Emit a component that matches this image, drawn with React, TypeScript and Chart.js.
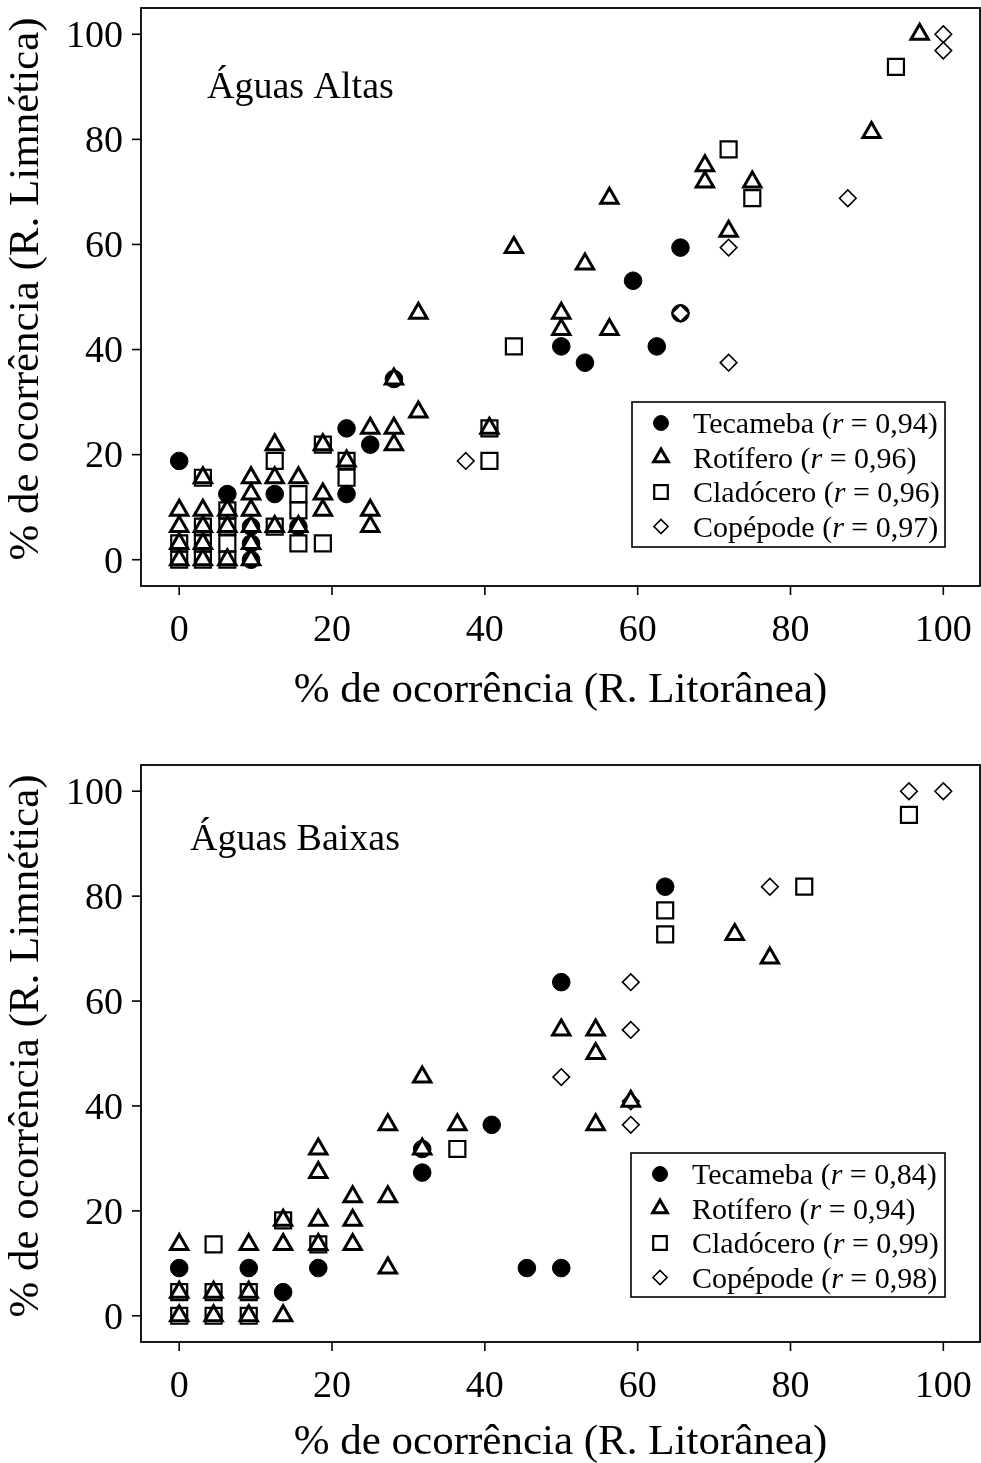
import { useEffect, useRef } from "react";
import { Chart, registerables } from "chart.js";

Chart.register(...registerables);

type Pt = [number, number];

const FONT = '"Liberation Serif", "Times New Roman", serif';

const tickValues = [0, 20, 40, 60, 80, 100];
const groupNames = ["Tecameba", "Rotífero", "Cladócero", "Copépode"];

// Águas Altas: % of occurrence, littoral (x) vs. limnetic (y)
const altasTecameba: Pt[] = [
  [0, 18.8], [6.3, 12.5], [9.4, 6.3], [9.4, 3.1], [9.4, 0], [12.5, 12.5], [15.6, 6.3],
  [21.9, 25], [21.9, 12.5], [25, 21.9], [28.1, 34.4], [50, 40.6], [53.1, 37.5],
  [59.4, 53.1], [62.5, 40.6], [65.6, 59.4], [65.6, 46.9],
];
const altasRotifero: Pt[] = [
  [0, 9.4], [0, 6.3], [0, 3.1], [0, 0],
  [3.1, 15.6], [3.1, 9.4], [3.1, 6.3], [3.1, 3.1], [3.1, 0],
  [6.3, 9.4], [6.3, 6.3], [6.3, 0],
  [9.4, 15.6], [9.4, 12.5], [9.4, 9.4], [9.4, 6.3], [9.4, 3.1], [9.4, 0],
  [12.5, 21.9], [12.5, 15.6], [12.5, 6.3],
  [15.6, 15.6], [15.6, 6.3],
  [18.8, 21.9], [18.8, 12.5], [18.8, 9.4],
  [21.9, 18.8],
  [25, 25], [25, 9.4], [25, 6.3],
  [28.1, 34.4], [28.1, 25], [28.1, 21.9],
  [31.3, 46.9], [31.3, 28.1],
  [40.6, 25],
  [43.8, 59.4],
  [50, 46.9], [50, 43.8],
  [53.1, 56.3],
  [56.3, 68.8], [56.3, 43.8],
  [68.8, 75], [68.8, 71.9],
  [71.9, 62.5],
  [75, 71.9],
  [90.6, 81.3],
  [96.9, 100],
];
const altasCladocero: Pt[] = [
  [0, 3.1], [0, 0],
  [3.1, 15.6], [3.1, 6.3], [3.1, 3.1], [3.1, 0],
  [6.3, 9.4], [6.3, 6.3], [6.3, 3.1], [6.3, 0],
  [12.5, 18.8], [12.5, 6.3],
  [15.6, 12.5], [15.6, 9.4], [15.6, 3.1],
  [18.8, 21.9], [18.8, 3.1],
  [21.9, 18.8], [21.9, 15.6],
  [40.6, 25], [40.6, 18.8],
  [43.8, 40.6],
  [71.9, 78.1],
  [75, 68.8],
  [93.8, 93.8],
];
const altasCopepode: Pt[] = [
  [37.5, 18.8], [65.6, 46.9], [71.9, 59.4], [71.9, 37.5], [87.5, 68.8], [100, 100], [100, 96.9],
];
const altasR = ["0,94", "0,96", "0,96", "0,97"];

// Águas Baixas
const baixasTecameba: Pt[] = [
  [0, 9.1], [9.1, 9.1], [13.6, 4.5], [18.2, 9.1], [31.8, 31.8], [31.8, 27.3],
  [40.9, 36.4], [45.5, 9.1], [50, 9.1], [50, 63.6], [63.6, 81.8],
];
const baixasRotifero: Pt[] = [
  [0, 13.6], [0, 4.5], [0, 0],
  [4.5, 4.5], [4.5, 0],
  [9.1, 13.6], [9.1, 4.5], [9.1, 0],
  [13.6, 18.2], [13.6, 13.6], [13.6, 0],
  [18.2, 31.8], [18.2, 27.3], [18.2, 18.2], [18.2, 13.6],
  [22.7, 22.7], [22.7, 18.2], [22.7, 13.6],
  [27.3, 36.4], [27.3, 22.7], [27.3, 9.1],
  [31.8, 45.5], [31.8, 31.8],
  [36.4, 36.4],
  [50, 54.5],
  [54.5, 54.5], [54.5, 50], [54.5, 36.4],
  [59.1, 40.9],
  [72.7, 72.7],
  [77.3, 68.2],
];
const baixasCladocero: Pt[] = [
  [0, 4.5], [0, 0], [4.5, 13.6], [4.5, 4.5], [4.5, 0], [9.1, 4.5], [9.1, 0],
  [13.6, 18.2], [18.2, 13.6], [36.4, 31.8], [63.6, 77.3], [63.6, 72.7], [81.8, 81.8], [95.5, 95.5],
];
const baixasCopepode: Pt[] = [
  [50, 45.5], [59.1, 63.6], [59.1, 54.5], [59.1, 40.9], [59.1, 36.4], [77.3, 81.8], [95.5, 100], [100, 100],
];
const baixasR = ["0,84", "0,94", "0,99", "0,98"];

type MarkerStyle = { pointStyle: string; radius: number; bg: string; borderWidth: number };
// one style per group, in groupNames order
const markerStyles: MarkerStyle[] = [
  { pointStyle: "circle", radius: 8.8, bg: "#000", borderWidth: 1 },
  { pointStyle: "triangle", radius: 10, bg: "#fff", borderWidth: 3 },
  { pointStyle: "rect", radius: 11.3, bg: "rgba(0,0,0,0)", borderWidth: 2.2 },
  { pointStyle: "rectRot", radius: 8.3, bg: "#fff", borderWidth: 1.6 },
];
// drawing order, bottom to top: circles, diamonds, squares, triangles
const drawStack = [1, 2, 3, 0];

const TICK_FS = 38;
const TITLE_FS = 43;
const LEGEND_FS = 30;

function setFont(ctx: CanvasRenderingContext2D, size: number, italic = false) {
  ctx.font = `${italic ? "italic " : ""}${size}px ${FONT}`;
}

function drawText(
  ctx: CanvasRenderingContext2D, text: string, x: number, y: number, size: number,
  align: CanvasTextAlign, rotate = false, italic = false,
) {
  ctx.save();
  ctx.translate(x, y);
  if (rotate) ctx.rotate(-Math.PI / 2);
  setFont(ctx, size, italic);
  ctx.textAlign = align;
  ctx.textBaseline = "alphabetic";
  ctx.fillStyle = "#000";
  ctx.fillText(text, 0, 0);
  ctx.restore();
}

function textWidth(ctx: CanvasRenderingContext2D, text: string, size: number, italic = false) {
  ctx.save();
  setFont(ctx, size, italic);
  const w = ctx.measureText(text).width;
  ctx.restore();
  return w;
}

function drawMarker(ctx: CanvasRenderingContext2D, st: MarkerStyle, x: number, y: number, scale: number) {
  const r = st.radius * scale;
  ctx.save();
  ctx.lineWidth = st.borderWidth;
  ctx.strokeStyle = "#000";
  ctx.fillStyle = st.bg;
  ctx.beginPath();
  if (st.pointStyle === "circle") {
    ctx.arc(x, y, r, 0, Math.PI * 2);
  } else if (st.pointStyle === "triangle") {
    ctx.moveTo(x, y - r);
    ctx.lineTo(x + r * Math.sin((2 * Math.PI) / 3), y - r * Math.cos((2 * Math.PI) / 3));
    ctx.lineTo(x + r * Math.sin((4 * Math.PI) / 3), y - r * Math.cos((4 * Math.PI) / 3));
  } else if (st.pointStyle === "rect") {
    const s = r * Math.SQRT1_2;
    ctx.rect(x - s, y - s, 2 * s, 2 * s);
  } else {
    ctx.moveTo(x - r, y);
    ctx.lineTo(x, y - r);
    ctx.lineTo(x + r, y);
    ctx.lineTo(x, y + r);
  }
  ctx.closePath();
  ctx.fill();
  ctx.stroke();
  ctx.restore();
}

type PanelProps = {
  title: string;
  series: Pt[][];
  rValues: string[];
  height: number;
  padTop: number;
  padBottom: number;
  titleX: number;
  titleBaseline: number;
  xTitleOffset: number;
  legendBox: { x: number; y: number; w: number; h: number };
};

function Panel({
  title, series, rValues, height, padTop, padBottom, titleX, titleBaseline, xTitleOffset, legendBox,
}: PanelProps) {
  const ref = useRef<HTMLCanvasElement | null>(null);

  useEffect(() => {
    const canvas = ref.current;
    if (!canvas) return;

    const decorations = {
      id: "panelDecorations",
      afterDraw(chart: Chart) {
        const ctx = chart.ctx;
        const { left, right, top, bottom } = chart.chartArea;
        const xs = chart.scales.x;
        const ys = chart.scales.y;
        ctx.save();
        ctx.strokeStyle = "#000";
        ctx.lineWidth = 1.8;
        ctx.strokeRect(left, top, right - left, bottom - top);

        ctx.lineWidth = 1.6;
        for (const v of tickValues) {
          const px = xs.getPixelForValue(v);
          ctx.beginPath();
          ctx.moveTo(px, bottom);
          ctx.lineTo(px, bottom + 9);
          ctx.stroke();
          drawText(ctx, String(v), px, bottom + 55, TICK_FS, "center");

          const py = ys.getPixelForValue(v);
          ctx.beginPath();
          ctx.moveTo(left - 9, py);
          ctx.lineTo(left, py);
          ctx.stroke();
          drawText(ctx, String(v), left - 18, py + 12.8, TICK_FS, "right");
        }

        drawText(ctx, "% de ocorrência (R. Litorânea)", (left + right) / 2, bottom + xTitleOffset, TITLE_FS, "center");
        drawText(ctx, "% de ocorrência (R. Limnética)", 38, top + 281, TITLE_FS, "center", true);

        drawText(ctx, title, titleX, titleBaseline, TICK_FS, "left");

        // legend
        const b = legendBox;
        ctx.fillStyle = "#fff";
        ctx.fillRect(b.x, b.y, b.w, b.h);
        ctx.lineWidth = 1.6;
        ctx.strokeRect(b.x, b.y, b.w, b.h);
        groupNames.forEach((name, i) => {
          const cy = b.y + 21 + i * 34.5;
          drawMarker(ctx, markerStyles[i], b.x + 29, cy, 0.85);
          let tx = b.x + 61;
          const base = cy + 10;
          const p1 = `${name} (`;
          drawText(ctx, p1, tx, base, LEGEND_FS, "left");
          tx += textWidth(ctx, p1, LEGEND_FS);
          drawText(ctx, "r", tx, base, LEGEND_FS, "left", false, true);
          tx += textWidth(ctx, "r", LEGEND_FS, true);
          drawText(ctx, ` = ${rValues[i]})`, tx, base, LEGEND_FS, "left");
        });
        ctx.restore();
      },
    };

    const datasets = drawStack.map((g) => {
      const st = markerStyles[g];
      return {
        label: groupNames[g],
        data: series[g].map(([x, y]) => ({ x, y })),
        pointStyle: st.pointStyle as any,
        pointRadius: st.radius,
        pointBackgroundColor: st.bg,
        pointBorderColor: "#000",
        pointBorderWidth: st.borderWidth,
        showLine: false,
        clip: false as any,
      };
    });

    const chart = new Chart(canvas, {
      type: "scatter",
      data: { datasets },
      options: {
        animation: false,
        responsive: false,
        devicePixelRatio: 1,
        events: [],
        layout: { autoPadding: false, padding: { left: 141, right: 1, top: padTop, bottom: padBottom } },
        plugins: { legend: { display: false }, tooltip: { enabled: false } },
        scales: {
          x: { type: "linear", min: -5, max: 104.8, display: false },
          y: { type: "linear", min: -5, max: 105, display: false },
        },
      },
      plugins: [decorations],
    });
    return () => chart.destroy();
  }, [title, series, rValues, padTop, padBottom, titleX, titleBaseline, xTitleOffset, legendBox]);

  return <canvas ref={ref} width={981} height={height} style={{ display: "block", width: 981, height }} />;
}

const altasSeries = [altasTecameba, altasRotifero, altasCladocero, altasCopepode];
const baixasSeries = [baixasTecameba, baixasRotifero, baixasCladocero, baixasCopepode];
const altasLegend = { x: 632, y: 402, w: 313, h: 145 };
const baixasLegend = { x: 631, y: 421, w: 314, h: 144 };

export default function App() {
  return (
    <div style={{ position: "absolute", left: 0, top: 0, width: 981, height: 1463, background: "#fff" }}>
      <Panel
        title="Águas Altas"
        series={altasSeries}
        rValues={altasR}
        height={732}
        padTop={8}
        padBottom={146}
        titleX={207}
        titleBaseline={98}
        xTitleOffset={116}
        legendBox={altasLegend}
      />
      <Panel
        title="Águas Baixas"
        series={baixasSeries}
        rValues={baixasR}
        height={731}
        padTop={33}
        padBottom={121}
        titleX={190}
        titleBaseline={118}
        xTitleOffset={112}
        legendBox={baixasLegend}
      />
    </div>
  );
}
